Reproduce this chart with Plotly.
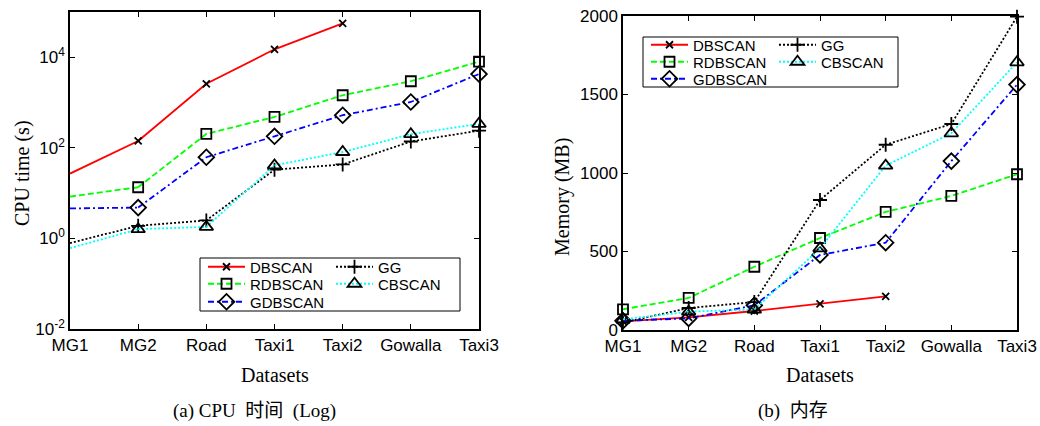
import plotly.graph_objects as go

# ---------------- data ----------------
categories = ["MG1", "MG2", "Road", "Taxi1", "Taxi2", "Gowalla", "Taxi3"]

# CPU time (s), log scale
dbscan_cpu = [27, 142, 2600, 15000, 56000]
rdbscan_cpu = [8.4, 13.5, 203, 482, 1450, 2960, 8000]
gdbscan_cpu = [4.6, 4.8, 62, 180, 525, 1030, 4270]
gg_cpu = [0.79, 1.9, 2.5, 33, 43, 138, 240]
cbscan_cpu = [0.61, 1.6, 1.8, 41, 81, 200, 340]

# Memory (MB)
dbscan_mem = [55, 80, 121, 166, 214]
rdbscan_mem = [132, 204, 403, 586, 752, 854, 992]
gdbscan_mem = [59, 74, 157, 478, 556, 1076, 1563]
gg_mem = [47, 140, 178, 828, 1180, 1312, 1996]
cbscan_mem = [68, 117, 130, 520, 1047, 1253, 1705]

cpu_tickvals = [1e-2, 1, 1e2, 1e4]
cpu_ticktext = ["10<sup>-2</sup>", "10<sup>0</sup>", "10<sup>2</sup>", "10<sup>4</sup>"]
mem_tickvals = [0, 500, 1000, 1500, 2000]

# ---------------- styling ----------------
W, H = 1040, 426
SANS = "Liberation Sans, Arial, sans-serif"
SERIF = "Liberation Serif, Times New Roman, serif"
CJK = "Liberation Serif, Noto Sans CJK SC, serif"


def fx(p):
    return p / W


def fy(p):
    return 1 - p / H


series = [
    # name, cpu, mem, color, dash, symbol, size, legend row
    ("DBSCAN", dbscan_cpu, dbscan_mem, "#FF0000", "solid", "x-thin", 7, 0),
    ("RDBSCAN", rdbscan_cpu, rdbscan_mem, "#00FF00", "6px,3px", "square-open", 10, 1),
    ("GDBSCAN", gdbscan_cpu, gdbscan_mem, "#0000FF", "6px,3px,2px,3px", "diamond-open", 12, 2),
    ("GG", gg_cpu, gg_mem, "#000000", "2px,2px", "cross-thin", 10, 0),
    ("CBSCAN", cbscan_cpu, cbscan_mem, "#00FFFF", "2px,2px", "triangle-up-open", 12, 1),
]

left_legends = ["legend", "legend2", "legend3"]
right_legends = ["legend4", "legend5", "legend6"]

fig = go.Figure()

for name, cpu, mem, color, dash, sym, size, row in series:
    marker = dict(symbol=sym, size=size, color="black",
                  line=dict(color="black", width=1.8))
    line = dict(color=color, width=1.8, dash=dash)
    xs = categories[:len(cpu)]
    # left: first segment without marker at MG1
    fig.add_trace(go.Scatter(x=xs[:2], y=cpu[:2], mode="lines", line=line,
                             showlegend=False, xaxis="x", yaxis="y",
                             cliponaxis=False, hoverinfo="skip"))
    fig.add_trace(go.Scatter(x=xs[1:], y=cpu[1:], mode="lines+markers",
                             name=name, line=line, marker=marker,
                             legend=left_legends[row], xaxis="x", yaxis="y",
                             cliponaxis=False))
    xm = categories[:len(mem)]
    fig.add_trace(go.Scatter(x=xm, y=mem, mode="lines+markers", name=name,
                             line=line, marker=marker,
                             legend=right_legends[row], xaxis="x2", yaxis="y2",
                             cliponaxis=False))

axis_common = dict(
    showline=True, linecolor="black", linewidth=1.5, mirror="ticks",
    ticks="inside", ticklen=5, tickwidth=1, tickcolor="black",
    showgrid=False, zeroline=False, automargin=False,
    tickfont=dict(family=SANS, size=17, color="black"),
)

layout = dict(
    width=W, height=H,
    margin=dict(l=0, r=0, t=0, b=0, pad=0, autoexpand=False),
    paper_bgcolor="white", plot_bgcolor="white",
    xaxis=dict(domain=[fx(70), fx(479)], anchor="y", type="category",
               categoryorder="array", categoryarray=categories,
               range=[0, 6], **axis_common),
    yaxis=dict(domain=[fy(329), fy(12)], anchor="x", type="log",
               range=[-2, 5], tickvals=cpu_tickvals, ticktext=cpu_ticktext,
               **axis_common),
    xaxis2=dict(domain=[fx(623), fx(1017)], anchor="y2", type="category",
                categoryorder="array", categoryarray=categories,
                range=[0, 6], **axis_common),
    yaxis2=dict(domain=[fy(330), fy(16)], anchor="x2", range=[0, 2000],
                tickvals=mem_tickvals, **axis_common),
)

# legends: one horizontal legend per row
leg_font = dict(family=SANS, size=15, color="black")
left_rows = [267, 284, 302]
right_rows = [45, 62, 79]
for i, lg in enumerate(left_legends):
    layout[lg] = dict(orientation="h", x=fx(203), y=fy(left_rows[i]),
                      xanchor="left", yanchor="middle", bgcolor="rgba(0,0,0,0)",
                      borderwidth=0, font=leg_font, itemwidth=37,
                      entrywidth=76, tracegroupgap=0)
for i, lg in enumerate(right_legends):
    layout[lg] = dict(orientation="h", x=fx(646), y=fy(right_rows[i]),
                      xanchor="left", yanchor="middle", bgcolor="rgba(0,0,0,0)",
                      borderwidth=0, font=leg_font, itemwidth=37,
                      entrywidth=76, tracegroupgap=0)

layout["shapes"] = [
    dict(type="rect", xref="paper", yref="paper", x0=fx(200), x1=fx(460),
         y0=fy(311), y1=fy(258), line=dict(color="black", width=1),
         fillcolor="white", layer="above"),
    dict(type="rect", xref="paper", yref="paper", x0=fx(643), x1=fx(898),
         y0=fy(87), y1=fy(37), line=dict(color="black", width=1),
         fillcolor="white", layer="above"),
]

title_font = dict(family=SERIF, size=20, color="black")
cap_font = dict(family=CJK, size=19, color="black")
layout["annotations"] = [
    dict(text="CPU time (s)", x=fx(22), y=fy(173), xref="paper", yref="paper",
         textangle=-90, showarrow=False, font=title_font,
         xanchor="center", yanchor="middle"),
    dict(text="Datasets", x=fx(275), y=fy(375), xref="paper", yref="paper",
         showarrow=False, font=title_font, xanchor="center", yanchor="middle"),
    dict(text="(a) CPU  时间  (Log)", x=fx(254), y=fy(411), xref="paper",
         yref="paper", showarrow=False, font=cap_font,
         xanchor="center", yanchor="middle"),
    dict(text="Memory (MB)", x=fx(562), y=fy(197), xref="paper", yref="paper",
         textangle=-90, showarrow=False, font=title_font,
         xanchor="center", yanchor="middle"),
    dict(text="Datasets", x=fx(820), y=fy(375), xref="paper", yref="paper",
         showarrow=False, font=title_font, xanchor="center", yanchor="middle"),
    dict(text="(b)  内存", x=fx(793), y=fy(411), xref="paper", yref="paper",
         showarrow=False, font=cap_font, xanchor="center", yanchor="middle"),
]

fig.update_layout(**layout)
fig.write_html(
    "out.html",
    config={"displayModeBar": False},
    post_script="document.body.style.margin='0';document.body.style.overflow='hidden';",
)
